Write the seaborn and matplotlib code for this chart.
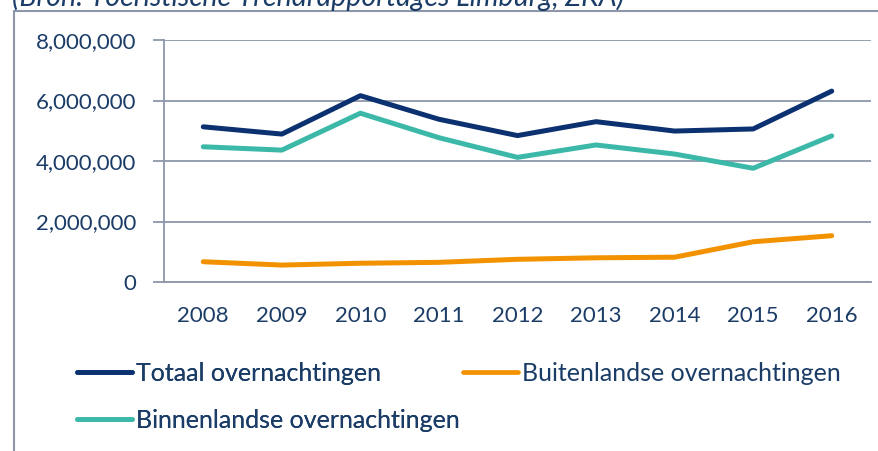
import matplotlib
matplotlib.use("Agg")
import matplotlib.pyplot as plt
import seaborn as sns
import pandas as pd
from matplotlib.lines import Line2D
from matplotlib.ticker import FuncFormatter, FixedLocator

years = ["2008", "2009", "2010", "2011", "2012", "2013", "2014", "2015", "2016"]
totaal = [5130000, 4890000, 6160000, 5380000, 4840000, 5300000, 4990000, 5060000, 6310000]
buitenlands = [670000, 560000, 620000, 650000, 750000, 800000, 820000, 1330000, 1530000]
binnenlands = [4470000, 4360000, 5580000, 4770000, 4120000, 4530000, 4230000, 3760000, 4830000]
series_names = ["Totaal overnachtingen", "Buitenlandse overnachtingen", "Binnenlandse overnachtingen"]
colors = ["#0B3170", "#F39200", "#3CB8A8"]
yticks = [0, 2000000, 4000000, 6000000, 8000000]
source = "(Bron: Toeristische Trendrapportages Limburg, ZKA)"

rows = []
for name, vals in zip(series_names, [totaal, buitenlands, binnenlands]):
    for i, (y, v) in enumerate(zip(years, vals)):
        rows.append({"pos": i, "year": y, "value": v, "series": name})
df = pd.DataFrame(rows)

sns.set_theme(style="white")
plt.rcParams["font.family"] = ["Lato", "DejaVu Sans"]

text_color = "#1A3C66"
grid_color = "#8E97AA"

fig = plt.figure(figsize=(8.79, 4.51), dpi=100)
ax = fig.add_axes([164 / 879, 1 - 282 / 451, (871 - 164) / 879, (282 - 40) / 451])

sns.lineplot(data=df, x="pos", y="value", hue="series", hue_order=series_names,
             palette=colors, linewidth=3.6, ax=ax, legend=False, sort=False,
             solid_capstyle="round")

ax.set_xlim(-0.5, len(years) - 0.5)
ax.set_ylim(0, 8000000)
ax.set_yticks(yticks)
ax.yaxis.set_major_formatter(FuncFormatter(lambda v, p: f"{int(v):,}"))
ax.set_xticks(range(len(years)))
ax.set_xticklabels(years)
ax.xaxis.set_minor_locator(FixedLocator([i - 0.5 for i in range(len(years) + 1)]))
ax.tick_params(axis="x", which="major", length=0, pad=17, labelsize=16, labelcolor=text_color)
ax.tick_params(axis="x", which="minor", length=7, width=1.3, color=grid_color, direction="out")
ax.tick_params(axis="y", which="major", length=8, width=1.3, color=grid_color, pad=12,
               labelsize=16, labelcolor=text_color, left=True)
ax.grid(axis="y", color=grid_color, linewidth=1.3)
ax.grid(axis="x", visible=False)
ax.set_axisbelow(True)
for s in ["top", "right"]:
    ax.spines[s].set_visible(False)
for s in ["left", "bottom"]:
    ax.spines[s].set_color(grid_color)
    ax.spines[s].set_linewidth(1.3)
ax.set_xlabel("")
ax.set_ylabel("")

# legend in two blocks: (Totaal, Binnenlands) at left, Buitenlands at right
def make_handle(i):
    return Line2D([0], [0], color=colors[i], linewidth=3.4, solid_capstyle="round")

leg_kw = dict(loc="upper left", frameon=False, fontsize=18, handlelength=2.2,
              handletextpad=0.16, labelspacing=0.96, borderpad=0, borderaxespad=0,
              labelcolor=text_color)
leg1 = fig.legend([make_handle(0), make_handle(2)], [series_names[0], series_names[2]],
                  bbox_to_anchor=(77 / 879, 1 - 362 / 451), **leg_kw)
leg2 = fig.legend([make_handle(1)], [series_names[1]],
                  bbox_to_anchor=(463 / 879, 1 - 362 / 451), **leg_kw)
fig.add_artist(leg1)

# outer frame (left + top)
fig.add_artist(Line2D([14 / 879, 14 / 879], [0, 1 - 11 / 451], color=grid_color, linewidth=1.5,
                      transform=fig.transFigure))
fig.add_artist(Line2D([14 / 879, 1], [1 - 11 / 451, 1 - 11 / 451], color=grid_color, linewidth=1.5,
                      transform=fig.transFigure))

fig.text(12 / 879, 1 - 6 / 451, source, fontsize=20.5, style="italic", color=text_color,
         va="baseline", ha="left")

fig.savefig("out.png", dpi=100)
